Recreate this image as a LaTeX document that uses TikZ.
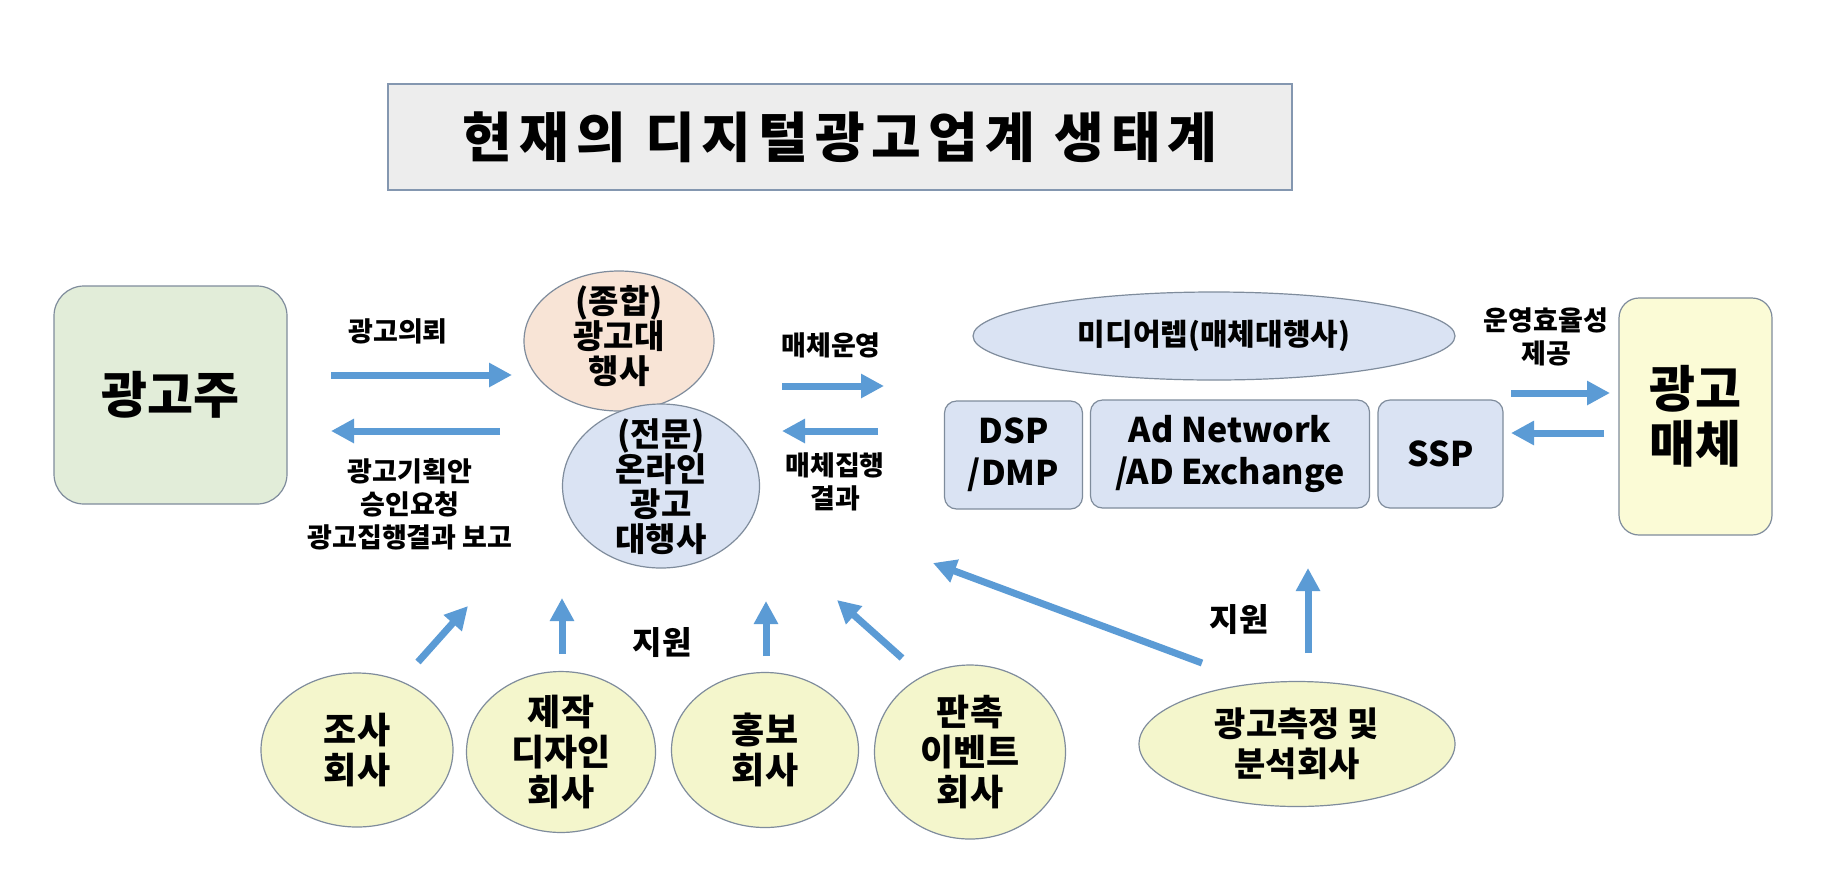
\documentclass[tikz,border=0pt]{standalone}
\usepackage{fontspec}
\setmainfont{Noto Sans CJK KR}
\usetikzlibrary{arrows.meta,shapes.geometric}
\definecolor{arrowblue}{HTML}{5B9BD5}
\definecolor{edgegray}{HTML}{7F8C9C}
\definecolor{titlefill}{HTML}{EDEDED}
\definecolor{titleedge}{HTML}{8497B0}
\definecolor{greenfill}{HTML}{E2EDD9}
\definecolor{peachfill}{HTML}{F8E4D6}
\definecolor{bluefill}{HTML}{DAE3F3}
\definecolor{yellowfill}{HTML}{F4F6CC}
\definecolor{paleyellow}{HTML}{FBFBD6}
\tikzset{
  flow/.style={draw=arrowblue, line width=3.5pt, -{Triangle[length=11.5pt,width=11.5pt]}},
  lbl/.style={font=\bfseries\fontsize{13.5pt}{16.5pt}\selectfont, align=center, inner sep=0pt},
  shp/.style={draw=edgegray, line width=0.6pt, align=center, inner sep=0pt, font=\bfseries},
  ell/.style={shp, ellipse},
  rbox/.style={shp, rectangle, rounded corners=6pt},
  firm/.style={ell, fill=yellowfill, font=\bfseries\fontsize{18pt}{20pt}\selectfont},
}
\begin{document}
\begin{tikzpicture}[x=0.5pt,y=-0.5pt]
\useasboundingbox (0,0) rectangle (1836,890);
\fill[white] (0,0) rectangle (1836,890);
% title
\node[draw=titleedge, fill=titlefill, line width=0.8pt, minimum width=452pt, minimum height=53pt, inner sep=0pt,
  font=\bfseries\fontsize{27pt}{30pt}\selectfont] (title) at (840,137) {\addfontfeatures{LetterSpace=13}현재의 디지털광고업계 생태계};
% advertiser
\node[rbox, fill=greenfill, rounded corners=15pt, minimum width=116.5pt, minimum height=109pt,
  font=\bfseries\fontsize{25pt}{30pt}\selectfont] (adv) at (170.5,395) {광고주};
% agencies
\node[ell, fill=peachfill, minimum width=95pt, minimum height=70pt] (gen) at (619,341) {};
\node[lbl, font=\bfseries\fontsize{16.5pt}{17.5pt}\selectfont] (gent) at (619,336) {(종합)\\광고대\\행사};
\node[ell, fill=bluefill, minimum width=98.5pt, minimum height=82pt] (onl) at (661,486) {};
\node[lbl, font=\bfseries\fontsize{16.5pt}{17.5pt}\selectfont] (onlt) at (661,487) {(전문)\\온라인\\광고\\대행사};
% media rep
\node[ell, fill=bluefill, minimum width=241pt, minimum height=44pt, font=\bfseries\fontsize{15pt}{17pt}\selectfont] (rep) at (1214,336) {미디어렙(매체대행사)};
\node[rbox, fill=bluefill, minimum width=69pt, minimum height=54pt, font=\bfseries\fontsize{17pt}{21pt}\selectfont] (dsp) at (1013.5,455) {DSP\\/DMP};
\node[rbox, fill=bluefill, minimum width=139.5pt, minimum height=54pt, font=\bfseries\fontsize{17pt}{21pt}\selectfont] (adnet) at (1230,454) {Ad Network\\/AD Exchange};
\node[rbox, fill=bluefill, minimum width=62.5pt, minimum height=54pt, font=\bfseries\fontsize{17pt}{21pt}\selectfont] (ssp) at (1440.5,454) {SSP};
% media
\node[rbox, fill=paleyellow, rounded corners=10pt, minimum width=76.5pt, minimum height=118.5pt,
  font=\bfseries\fontsize{25pt}{27.5pt}\selectfont] (media) at (1695.5,416.5) {광고\\매체};
% bottom companies
\node[firm, minimum width=96pt, minimum height=77pt] (c1) at (357,750) {조사\\회사};
\node[firm, minimum width=94.5pt, minimum height=76.5pt] (c2) at (561,752) {제작\\디자인\\회사};
\node[firm, minimum width=93.5pt, minimum height=77.5pt] (c3) at (765,750) {홍보\\회사};
\node[firm, minimum width=95.5pt, minimum height=87pt] (c4) at (970,752) {판촉\\이벤트\\회사};
\node[firm, minimum width=158pt, minimum height=62.5pt, font=\bfseries\fontsize{17pt}{20pt}\selectfont] (c5) at (1297,744) {광고측정 및\\분석회사};
% labels
\node[lbl] (l1) at (398,331) {광고의뢰};
\node[lbl] (l2) at (410,504) {광고기획안\\승인요청\\광고집행결과 보고};
\node[lbl] (l3) at (831,345) {매체운영};
\node[lbl] (l4) at (835,482) {매체집행\\결과};
\node[lbl] (l5) at (1546,337) {운영효율성\\제공};
\node[lbl, font=\bfseries\fontsize{16pt}{19pt}\selectfont] (l6) at (662,643) {지원};
\node[lbl, font=\bfseries\fontsize{16pt}{19pt}\selectfont] (l7) at (1239,620) {지원};
% arrow end points
\coordinate (a1s) at (331,375); \coordinate (a1e) at (512,375);
\coordinate (a2s) at (500,431); \coordinate (a2e) at (331,431);
\coordinate (a3s) at (782,386); \coordinate (a3e) at (884,386);
\coordinate (a4s) at (878,431); \coordinate (a4e) at (782,431);
\coordinate (a5s) at (1511,393); \coordinate (a5e) at (1610,393);
\coordinate (a6s) at (1604,433); \coordinate (a6e) at (1511,433);
\coordinate (b1s) at (418,662); \coordinate (b1e) at (468,606);
\coordinate (b2s) at (562,654); \coordinate (b2e) at (562,598);
\coordinate (b3s) at (766,656); \coordinate (b3e) at (766,601);
\coordinate (b4s) at (902,658); \coordinate (b4e) at (837,600);
\coordinate (b5s) at (1202,663); \coordinate (b5e) at (933,563);
\coordinate (b6s) at (1308,653); \coordinate (b6e) at (1308,568);
\foreach \a in {a1,a2,a3,a4,a5,a6,b1,b2,b3,b4,b5,b6}
  \draw[flow] (\a s) -- (\a e);
\end{tikzpicture}
\end{document}
